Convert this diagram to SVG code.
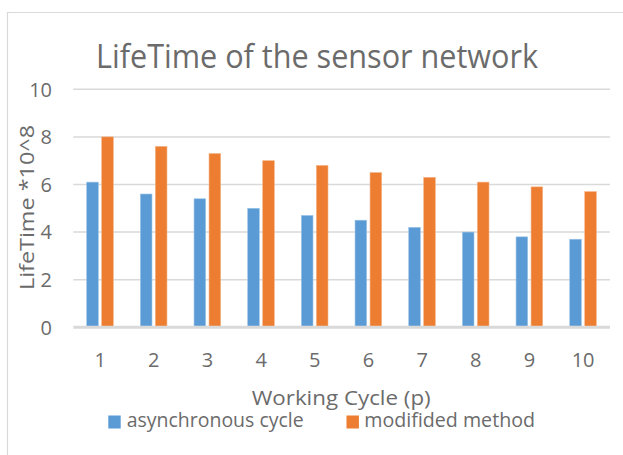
<svg xmlns="http://www.w3.org/2000/svg" width="623" height="455" viewBox="0 0 623 455">
<style>
text{font-family:"Open Sans","Noto Sans","Liberation Sans",sans-serif;fill:#6b6b6b}
.grid{stroke:#d9d9d9;stroke-width:1.5;fill:none}
.axis{stroke:#d9d9d9;stroke-width:3;fill:none}
.b{fill:#5b9bd5;stroke:#9cc3e6;stroke-width:0.6}
.o{fill:#ed7d31;stroke:#f4b183;stroke-width:0.6}
.yt{font-size:20px;text-anchor:end}
.xt{font-size:20px;text-anchor:middle}
.lg{font-size:20px}
</style>
<rect width="623" height="455" fill="#ffffff"/>
<path d="M7.5 455V12.5H623" stroke="#d9d9d9" stroke-width="1.2" fill="none"/>
<text id="title" x="96" y="68.3" font-size="32.5" textLength="442" lengthAdjust="spacingAndGlyphs">LifeTime of the sensor network</text>
<g id="gridlines">
<line class="grid" x1="73.3" y1="89.3" x2="610" y2="89.3"/>
<line class="grid" x1="73.3" y1="136.9" x2="610" y2="136.9"/>
<line class="grid" x1="73.3" y1="184.5" x2="610" y2="184.5"/>
<line class="grid" x1="73.3" y1="232.1" x2="610" y2="232.1"/>
<line class="grid" x1="73.3" y1="279.7" x2="610" y2="279.7"/>
</g>
<g id="y-axis-labels">
<text class="yt" x="52" y="96.6">10</text>
<text class="yt" x="52" y="144.2">8</text>
<text class="yt" x="52" y="191.8">6</text>
<text class="yt" x="52" y="239.4">4</text>
<text class="yt" x="52" y="287">2</text>
<text class="yt" x="52" y="334.6">0</text>
</g>
<text id="y-title" transform="translate(33.5 207.5) rotate(-90)" font-size="19.5" text-anchor="middle" textLength="165" lengthAdjust="spacingAndGlyphs">LifeTime *10^8</text>
<g id="series-asynchronous">
<rect class="b" x="86.7" y="182.12" width="11.6" height="145.18"/>
<rect class="b" x="140.37" y="194.02" width="11.6" height="133.28"/>
<rect class="b" x="194.04" y="198.78" width="11.6" height="128.52"/>
<rect class="b" x="247.71" y="208.3" width="11.6" height="119"/>
<rect class="b" x="301.38" y="215.44" width="11.6" height="111.86"/>
<rect class="b" x="355.05" y="220.2" width="11.6" height="107.1"/>
<rect class="b" x="408.72" y="227.34" width="11.6" height="99.96"/>
<rect class="b" x="462.39" y="232.1" width="11.6" height="95.2"/>
<rect class="b" x="516.06" y="236.86" width="11.6" height="90.44"/>
<rect class="b" x="569.73" y="239.24" width="11.6" height="88.06"/>
</g>
<g id="series-modified">
<rect class="o" x="101.7" y="136.9" width="11.6" height="190.4"/>
<rect class="o" x="155.37" y="146.42" width="11.6" height="180.88"/>
<rect class="o" x="209.04" y="153.56" width="11.6" height="173.74"/>
<rect class="o" x="262.71" y="160.7" width="11.6" height="166.6"/>
<rect class="o" x="316.38" y="165.46" width="11.6" height="161.84"/>
<rect class="o" x="370.05" y="172.6" width="11.6" height="154.7"/>
<rect class="o" x="423.72" y="177.36" width="11.6" height="149.94"/>
<rect class="o" x="477.39" y="182.12" width="11.6" height="145.18"/>
<rect class="o" x="531.06" y="186.88" width="11.6" height="140.42"/>
<rect class="o" x="584.73" y="191.64" width="11.6" height="135.66"/>
</g>
<line id="x-axis" class="axis" x1="73.3" y1="327.3" x2="610" y2="327.3"/>
<g id="x-axis-labels">
<text class="xt" x="100.1" y="366.7">1</text>
<text class="xt" x="153.77" y="366.7">2</text>
<text class="xt" x="207.44" y="366.7">3</text>
<text class="xt" x="261.11" y="366.7">4</text>
<text class="xt" x="314.78" y="366.7">5</text>
<text class="xt" x="368.45" y="366.7">6</text>
<text class="xt" x="422.12" y="366.7">7</text>
<text class="xt" x="475.79" y="366.7">8</text>
<text class="xt" x="529.46" y="366.7">9</text>
<text class="xt" x="583.13" y="366.7">10</text>
</g>
<text id="x-title" x="251.7" y="405" font-size="20.5" textLength="179" lengthAdjust="spacingAndGlyphs">Working Cycle (p)</text>
<g id="legend">
<rect x="108.3" y="415.5" width="12.4" height="13" fill="#5b9bd5"/>
<text class="lg" x="126.7" y="427.3" textLength="177" lengthAdjust="spacingAndGlyphs">asynchronous cycle</text>
<rect x="346.5" y="415.5" width="12.4" height="13" fill="#ed7d31"/>
<text class="lg" x="364.3" y="427.3" textLength="170.7" lengthAdjust="spacingAndGlyphs">modifided method</text>
</g>
</svg>
